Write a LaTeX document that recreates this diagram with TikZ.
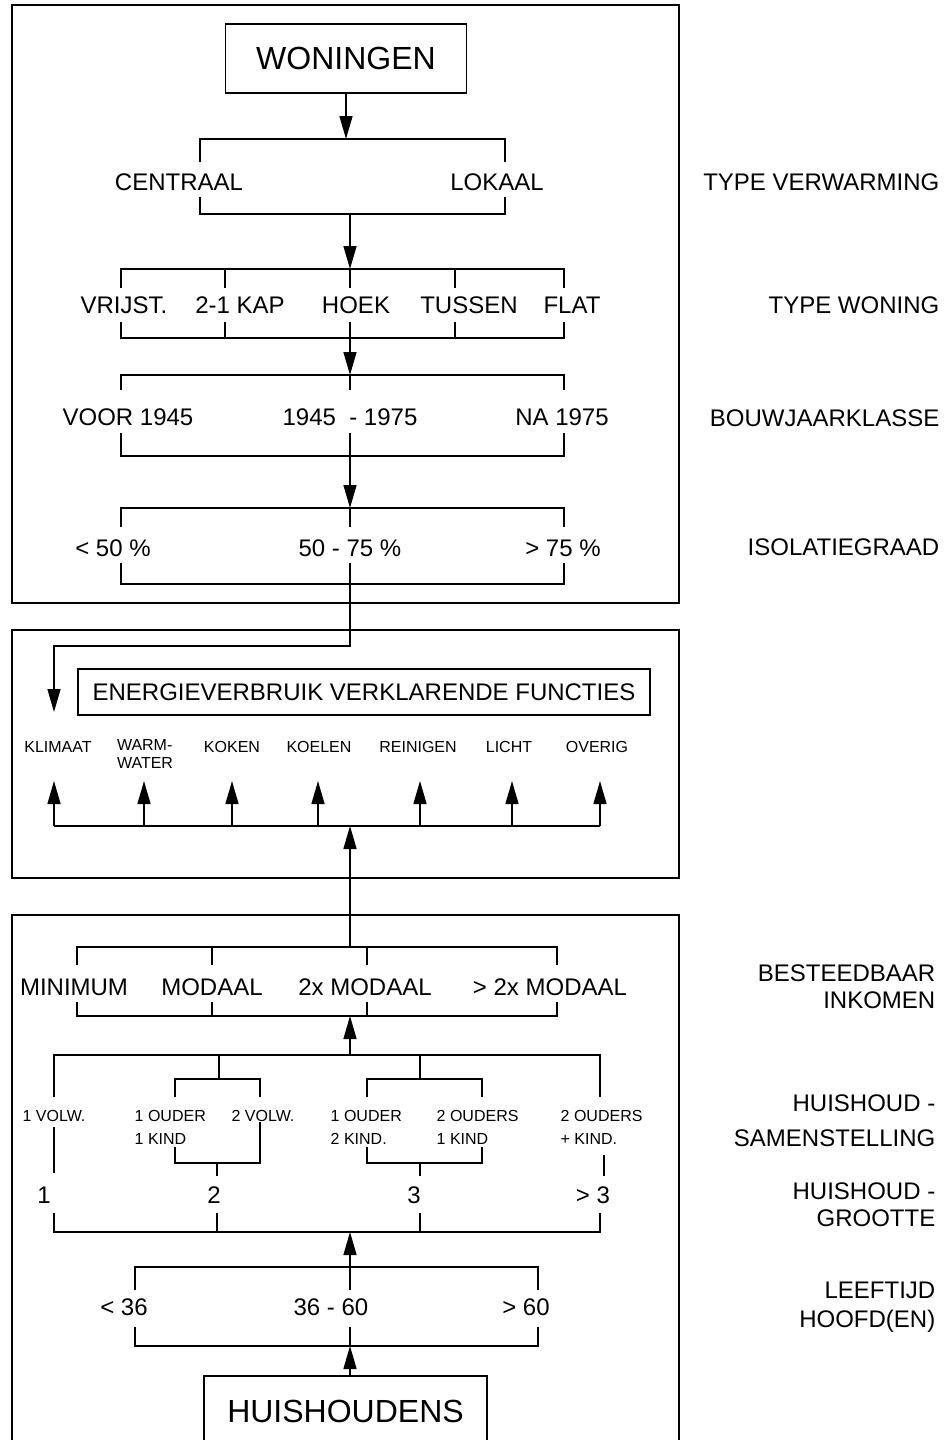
\documentclass[tikz,border=0pt]{standalone}
\usepackage{fontspec}
\setmainfont{Liberation Sans}
\usetikzlibrary{arrows.meta}

\begin{document}
\begin{tikzpicture}[x=0.5pt, y=-0.5pt, line width=0.7pt,
    >={Triangle[length=11.5pt, width=6.5pt]},
    lbl/.style={font=\fontsize{12}{14}\selectfont, inner sep=0pt},
    sml/.style={font=\fontsize{8}{11.5}\selectfont, inner sep=0pt, align=left},
    side/.style={font=\fontsize{12}{13.5}\selectfont, inner sep=0pt,
                 anchor=east, align=right},
    titlebox/.style={draw, font=\fontsize{16}{18}\selectfont},
    frame/.style={draw, line width=0.9pt}]
  \useasboundingbox (0,0) rectangle (952,1440);

  % woningen
  \draw[frame] (12,5) rectangle (679,603);
  \node[titlebox, minimum width=120.5pt, minimum height=34.5pt]
    (woningen) at (346,58.5) {WONINGEN};
  \draw[->] (woningen.south) -- (346,139);

  % type verwarming
  \draw (200,162) -- (200,139) -- (505,139) -- (505,162);
  \node[lbl] (centraal) at (179,182) {CENTRAAL};
  \node[lbl] (lokaal) at (497,182) {LOKAAL};
  \draw (200,197) -- (200,214) -- (505,214) -- (505,197);
  \draw[->] (350,214) -- (350,269);

  % type woning
  \draw (121,288) -- (121,269) -- (564,269) -- (564,288);
  \foreach \x in {225,350,455} \draw (\x,269) -- (\x,288);
  \foreach \x/\t/\n in {124/VRIJST./vrijst, 240/2-1 KAP/kap, 356/HOEK/hoek,
                        469/TUSSEN/tussen, 572/FLAT/flat}
    \node[lbl] (\n) at (\x,305) {\t};
  \draw (121,322) -- (121,338) -- (564,338) -- (564,322);
  \foreach \x in {225,350,455} \draw (\x,322) -- (\x,338);
  \draw[->] (350,338) -- (350,375);

  % bouwjaarklasse
  \draw (121,390) -- (121,375) -- (564,375) -- (564,390);
  \draw (350,375) -- (350,390);
  \node[lbl] (voor) at (128,417) {VOOR 1945};
  \node[lbl] (tussenjaar) at (350,417) {1945~~- 1975};
  \node[lbl] (na) at (562,417) {NA 1975};
  \draw (121,433) -- (121,456) -- (564,456) -- (564,433);
  \draw (350,433) -- (350,456);
  \draw[->] (350,456) -- (350,508);

  % isolatiegraad
  \draw (121,527) -- (121,508) -- (564,508) -- (564,527);
  \draw (350,508) -- (350,527);
  \node[lbl] (isolaag) at (113,548) {< 50 \%};
  \node[lbl] (isomid) at (350,548) {50 - 75 \%};
  \node[lbl] (isohoog) at (563,548) {> 75 \%};
  \draw (121,563) -- (121,584) -- (564,584) -- (564,563);
  \draw (350,563) -- (350,584);
  \draw[->] (350,584) -- (350,646) -- (54,646) -- (54,712);

  % functies
  \draw[frame] (12,630) rectangle (679,878);
  \node[draw, lbl, minimum width=286pt, minimum height=23pt]
    (functies) at (364,692) {ENERGIEVERBRUIK VERKLARENDE FUNCTIES};
  \foreach \x/\t/\n in {58/KLIMAAT/klimaat, 232/KOKEN/koken, 319/KOELEN/koelen,
                        418/REINIGEN/reinigen, 509/LICHT/licht, 597/OVERIG/overig}
    \node[sml] (\n) at (\x,747) {\t};
  \node[sml, font=\fontsize{8}{9}\selectfont] (warmwater) at (145,754) {WARM-\\WATER};
  \draw (54,826) -- (600,826);
  \foreach \x in {54,144,232,318,420,512,600} \draw[->] (\x,826) -- (\x,781);
  \draw[->] (350,947) -- (350,826);

  % huishoudens
  \draw[frame] (12,915) rectangle (679,1446);

  % inkomen
  \draw (77,965) -- (77,947) -- (557,947) -- (557,965);
  \foreach \x in {212,367} \draw (\x,947) -- (\x,965);
  \node[lbl] (minimum) at (74,987) {MINIMUM};
  \node[lbl] (modaal) at (212,987) {MODAAL};
  \node[lbl] (tweemodaal) at (365,987) {2x MODAAL};
  \node[lbl] (meermodaal) at (550,987) {> 2x MODAAL};
  \draw (77,1002) -- (77,1016) -- (557,1016) -- (557,1002);
  \foreach \x in {212,367} \draw (\x,1002) -- (\x,1016);
  \draw[->] (350,1055) -- (350,1016);

  % samenstelling
  \draw (54,1097) -- (54,1055) -- (600,1055) -- (600,1097);
  \draw (219,1055) -- (219,1079);
  \draw (420,1055) -- (420,1079);
  \draw (175,1097) -- (175,1079) -- (260,1079) -- (260,1097);
  \draw (367,1097) -- (367,1079) -- (482,1079) -- (482,1097);
  \node[sml] (eenvolw) at (54,1116) {1 VOLW.};
  \node[sml, anchor=west] (oudereen) at (134,1127.5) {1 OUDER\\1 KIND};
  \node[sml] (tweevolw) at (263,1116) {2 VOLW.};
  \node[sml, anchor=west] (oudertwee) at (330,1127.5) {1 OUDER\\2 KIND.};
  \node[sml, anchor=west] (oudersseen) at (436,1127.5) {2 OUDERS\\1 KIND};
  \node[sml, anchor=west] (oudersmeer) at (560,1127.5) {2 OUDERS\\+ KIND.};
  \draw (54,1127) -- (54,1173);
  \draw (260,1122) -- (260,1163) -- (175,1163) -- (175,1147);
  \draw (217,1163) -- (217,1176);
  \draw (367,1147) -- (367,1163) -- (482,1163) -- (482,1147);
  \draw (420,1163) -- (420,1176);
  \draw (604,1155) -- (604,1176);

  % grootte
  \node[lbl] (een) at (44,1195) {1};
  \node[lbl] (twee) at (214,1195) {2};
  \node[lbl] (drie) at (414,1195) {3};
  \node[lbl] (meer) at (593,1195) {> 3};
  \draw (54,1213) -- (54,1232) -- (600,1232) -- (600,1213);
  \foreach \x in {217,420} \draw (\x,1213) -- (\x,1232);
  \draw[->] (350,1267) -- (350,1232);

  % leeftijd
  \draw (135,1290) -- (135,1267) -- (538,1267) -- (538,1290);
  \draw (350,1267) -- (350,1290);
  \node[lbl] (jong) at (124,1307) {< 36};
  \node[lbl] (middel) at (331,1307) {36 - 60};
  \node[lbl] (oud) at (526,1307) {> 60};
  \draw (135,1327) -- (135,1346) -- (538,1346) -- (538,1327);
  \draw (350,1327) -- (350,1346);
  \node[titlebox, minimum width=141.5pt, minimum height=35pt]
    (huishoudens) at (345.5,1411) {HUISHOUDENS};
  \draw[->] (huishoudens.north -| 350,0) -- (350,1346);

  % kenmerken
  \node[side] (verwarming) at (940,182) {TYPE VERWARMING};
  \node[side] (woning) at (940,305) {TYPE WONING};
  \node[side] (bouwjaar) at (940,418) {BOUWJAARKLASSE};
  \node[side] (isolatie) at (940,547) {ISOLATIEGRAAD};
  \node[side] (inkomen) at (936,986.5) {BESTEEDBAAR\\INKOMEN};
  \node[side] (samenstelling) at (936,1120.5) {HUISHOUD -\\[4pt]SAMENSTELLING};
  \node[side] (grootte) at (936,1205) {HUISHOUD -\\GROOTTE};
  \node[side] (leeftijd) at (936,1307.5) {LEEFTIJD\\[1pt]HOOFD(EN)};
\end{tikzpicture}
\end{document}
